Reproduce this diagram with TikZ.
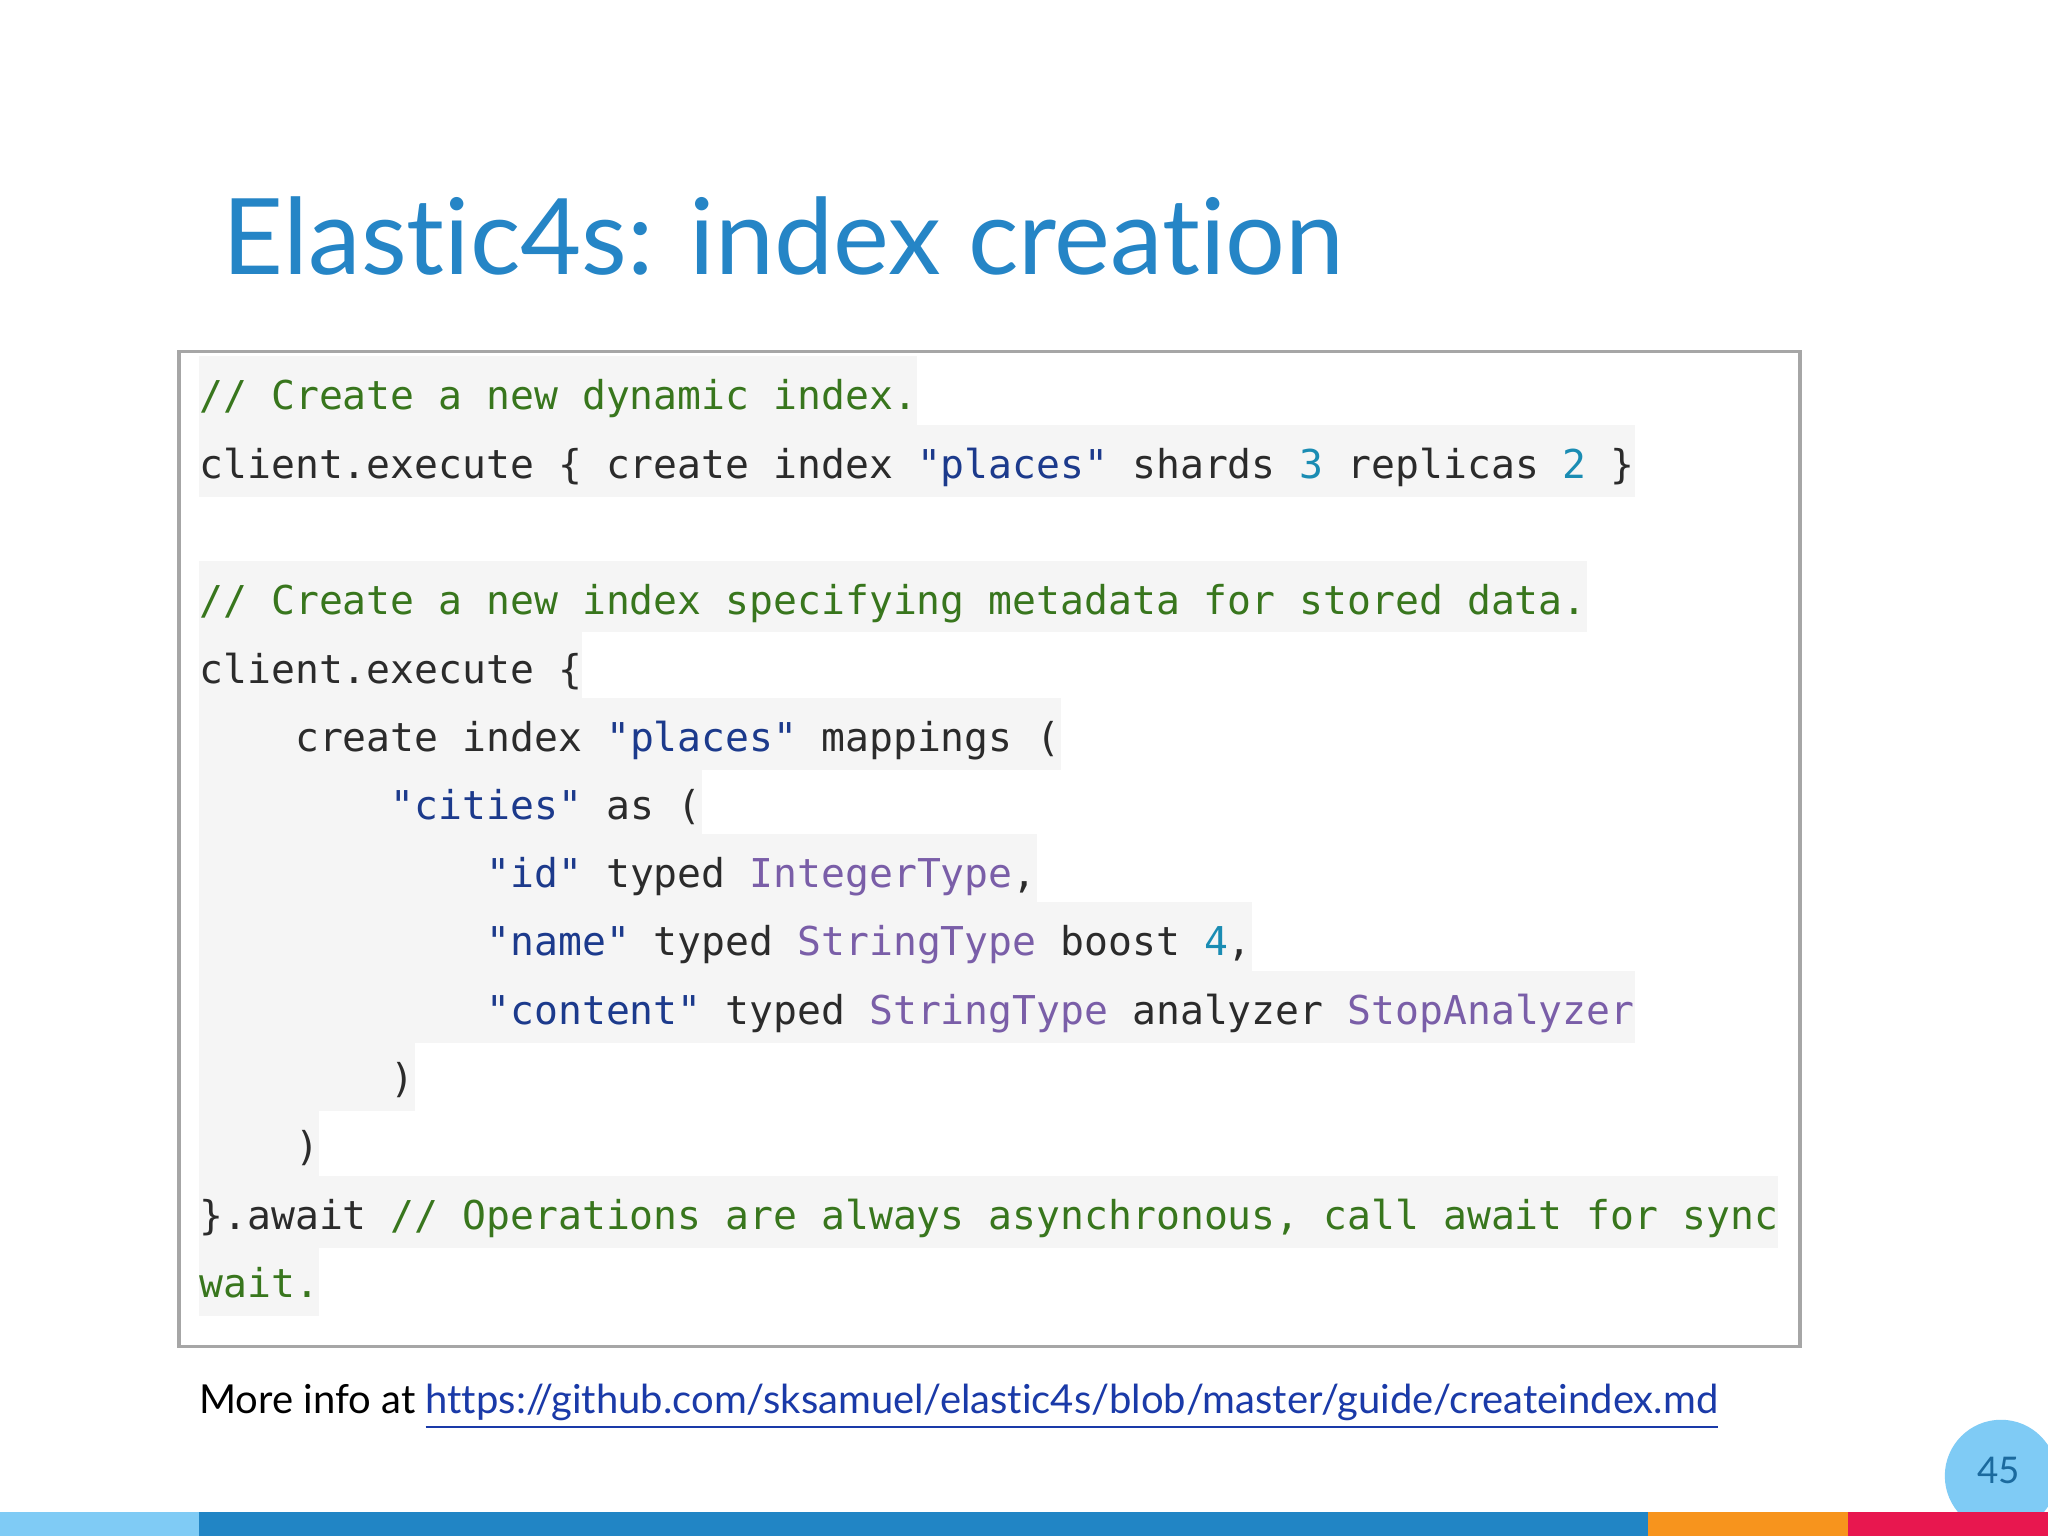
\documentclass[tikz,border=0pt]{standalone}
\usepackage{fontspec}
\setmainfont{Lato}[Ligatures=NoCommon]
\setmonofont{DejaVu Sans Mono}
\usetikzlibrary{positioning}
\definecolor{titleblue}{HTML}{2585C6}
\definecolor{codebg}{HTML}{F5F5F5}
\definecolor{cmt}{HTML}{38761D}
\definecolor{str}{HTML}{1C3A8C}
\definecolor{num}{HTML}{1A8CB3}
\definecolor{typ}{HTML}{7A5EA8}
\definecolor{txt}{HTML}{2B2B2B}
\definecolor{link}{HTML}{1A3AA8}
\definecolor{barlight}{HTML}{7FCBF5}
\definecolor{barblue}{HTML}{2185C5}
\definecolor{barorange}{HTML}{F7941D}
\definecolor{barred}{HTML}{E8174F}
\newcommand\cm[1]{\textcolor{cmt}{#1}}
\newcommand\st[1]{\textcolor{str}{#1}}
\newcommand\nm[1]{\textcolor{num}{#1}}
\newcommand\ty[1]{\textcolor{typ}{#1}}
\newcommand\ind[1]{\phantom{#1}}
\begin{document}
\begin{tikzpicture}[x=0.01cm,y=-0.01cm,
  codeline/.style={anchor=west,fill=codebg,inner xsep=0pt,inner ysep=0pt,
    text height=11.5pt,text depth=4pt,font=\fontsize{8.65}{10}\ttfamily,text=txt}]
% Page
\useasboundingbox (0,0) rectangle (1568,1176);
\fill[white] (0,0) rectangle (1568,1176);
% Title
\node[anchor=base west,text=titleblue,font=\fontsize{23}{28}\selectfont,inner sep=0pt]
  (title) at (170,210) {Elastic4s: index creation};
% Code box
\draw[gray!70,line width=0.8pt] (137,269) rectangle (1378,1031);
\node[codeline] (l1) at (152,300) {\cm{// Create a new dynamic index.}};
\node[codeline] (l2) at (152,353) {client.execute \{ create index \st{"places"} shards \nm{3} replicas \nm{2} \}};
\node[codeline] (l3) at (152,457) {\cm{// Create a new index specifying metadata for stored data.}};
\node[codeline] (l4) at (152,510) {client.execute \{};
\node[codeline] (l5) at (152,562) {\ind{xxxx}create index \st{"places"} mappings (};
\node[codeline] (l6) at (152,614) {\ind{xxxxxxxx}\st{"cities"} as (};
\node[codeline] (l7) at (152,666) {\ind{xxxxxxxxxxxx}\st{"id"} typed \ty{IntegerType},};
\node[codeline] (l8) at (152,718) {\ind{xxxxxxxxxxxx}\st{"name"} typed \ty{StringType} boost \nm{4},};
\node[codeline] (l9) at (152,771) {\ind{xxxxxxxxxxxx}\st{"content"} typed \ty{StringType} analyzer \ty{StopAnalyzer}};
\node[codeline] (l10) at (152,823) {\ind{xxxxxxxx})};
\node[codeline] (l11) at (152,875) {\ind{xxxx})};
\node[codeline] (l12) at (152,928) {\}.await \cm{// Operations are always asynchronous, call await for sync}};
\node[codeline] (l13) at (152,980) {\cm{wait.}};
% Link
\node[anchor=base west,inner sep=0pt,font=\fontsize{8.7}{11}\selectfont] (info) at (152,1082)
  {More info at \textcolor{link}{\underline{https://github.com/sksamuel/elastic4s/blob/master/guide/createindex.md}}};
% Page number
\fill[barlight] (1532,1130) circle (43);
\node[text=barblue!80!black,font=\fontsize{8}{10}\selectfont] (page) at (1530,1126) {45};
% Bottom bar
\fill[barlight] (0,1158) rectangle (152,1176);
\fill[barblue] (152,1158) rectangle (1262,1176);
\fill[barorange] (1262,1158) rectangle (1415,1176);
\fill[barred] (1415,1158) rectangle (1568,1176);
\end{tikzpicture}
\end{document}
